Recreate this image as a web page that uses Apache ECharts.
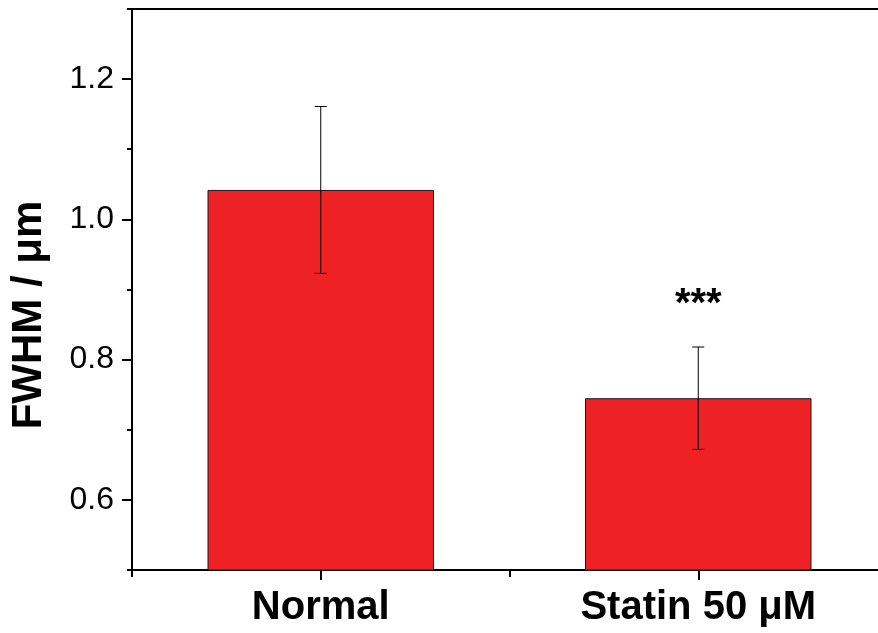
<!DOCTYPE html>
<html>
<head>
<meta charset="utf-8">
<title>FWHM</title>
<script src="https://cdn.jsdelivr.net/npm/echarts@6/dist/echarts.min.js"></script>
<style>
  html, body { margin: 0; padding: 0; background: #fff; }
  #chart { width: 878px; height: 633px; }
</style>
</head>
<body>
<div id="chart"></div>
<script>
// Groups and measured FWHM (mean ± SD, in µm)
const categories = ['Normal', 'Statin 50 μM'];
const means = [1.042, 0.745];
const errors = [0.119, 0.073];
const significance = ['', '***'];

// Axis ticks
const majorTicks = [0.6, 0.8, 1.0, 1.2];
const minorTicks = [0.5, 0.7, 0.9, 1.1, 1.3];

const FONT = '"Liberation Sans", Arial, Helvetica, sans-serif';

const chart = echarts.init(document.getElementById('chart'));

const errorData = means.map((m, i) => [i, m, errors[i]]);

chart.setOption({
  animation: false,
  backgroundColor: '#ffffff',
  // plot frame runs past the right edge of the canvas
  grid: {
    left: 132, top: 9, width: 755, height: 561,
    containLabel: false, outerBoundsMode: 'none'
  },
  xAxis: [
    {
      type: 'category',
      data: categories,
      position: 'bottom',
      axisLine: { show: true, onZero: false, lineStyle: { color: '#000', width: 2 } },
      axisTick: { show: true, alignWithLabel: true, length: 10, lineStyle: { color: '#000', width: 2 } },
      axisLabel: {
        color: '#000', fontFamily: FONT, fontSize: 40, fontWeight: 'bold', margin: 18
      },
      splitLine: { show: false }
    },
    {
      // boundary ticks between groups
      type: 'category',
      data: categories,
      position: 'bottom',
      axisLine: { show: false },
      axisTick: { show: true, alignWithLabel: false, length: 7, lineStyle: { color: '#000', width: 2 } },
      axisLabel: { show: false },
      splitLine: { show: false }
    },
    {
      // top frame line
      type: 'category',
      data: categories,
      position: 'top',
      axisLine: { show: true, lineStyle: { color: '#000', width: 2 } },
      axisTick: { show: false },
      axisLabel: { show: false },
      splitLine: { show: false }
    }
  ],
  yAxis: [
    {
      type: 'value',
      min: 0.5,
      max: 1.3,
      position: 'left',
      axisLine: { show: true, onZero: false, lineStyle: { color: '#000', width: 2 } },
      axisTick: { show: true, customValues: majorTicks, length: 10, lineStyle: { color: '#000', width: 2 } },
      axisLabel: {
        customValues: majorTicks,
        formatter: v => v.toFixed(1),
        color: '#000', fontFamily: FONT, fontSize: 32, margin: 18
      },
      splitLine: { show: false }
    },
    {
      type: 'value',
      min: 0.5,
      max: 1.3,
      position: 'left',
      axisLine: { show: false },
      axisTick: { show: true, customValues: minorTicks, length: 5, lineStyle: { color: '#000', width: 2 } },
      axisLabel: { show: false, customValues: minorTicks },
      splitLine: { show: false }
    }
  ],
  graphic: [
    {
      type: 'text',
      x: 29,
      y: 315,
      rotation: Math.PI / 2,
      style: {
        text: 'FWHM / μm',
        fill: '#000',
        font: 'bold 42px ' + FONT,
        align: 'center',
        verticalAlign: 'middle'
      }
    }
  ],
  series: [
    {
      type: 'bar',
      xAxisIndex: 0,
      yAxisIndex: 0,
      data: means,
      barWidth: '60%',
      itemStyle: { color: '#EE2224', borderColor: '#1a1a1a', borderWidth: 1 },
      z: 2
    },
    {
      type: 'custom',
      xAxisIndex: 0,
      yAxisIndex: 0,
      data: errorData,
      encode: { x: 0, y: 1 },
      z: 5,
      renderItem: function (params, api) {
        const idx = api.value(0);
        const mean = api.value(1);
        const err = api.value(2);
        const top = api.coord([idx, mean + err]);
        const bot = api.coord([idx, mean - err]);
        const x = top[0];
        const cap = 6;
        const style = { stroke: '#000', lineWidth: 1 };
        const children = [
          { type: 'line', shape: { x1: x, y1: top[1], x2: x, y2: bot[1] }, style: style },
          { type: 'line', shape: { x1: x - cap, y1: top[1], x2: x + cap, y2: top[1] }, style: style },
          { type: 'line', shape: { x1: x - cap, y1: bot[1], x2: x + cap, y2: bot[1] }, style: style }
        ];
        const sig = significance[params.dataIndex];
        if (sig) {
          children.push({
            type: 'text',
            x: x,
            y: top[1] - 42,
            style: {
              text: sig,
              fill: '#000',
              font: 'bold 40px ' + FONT,
              align: 'center',
              verticalAlign: 'middle'
            }
          });
        }
        return { type: 'group', children: children };
      }
    }
  ]
});
</script>
</body>
</html>
